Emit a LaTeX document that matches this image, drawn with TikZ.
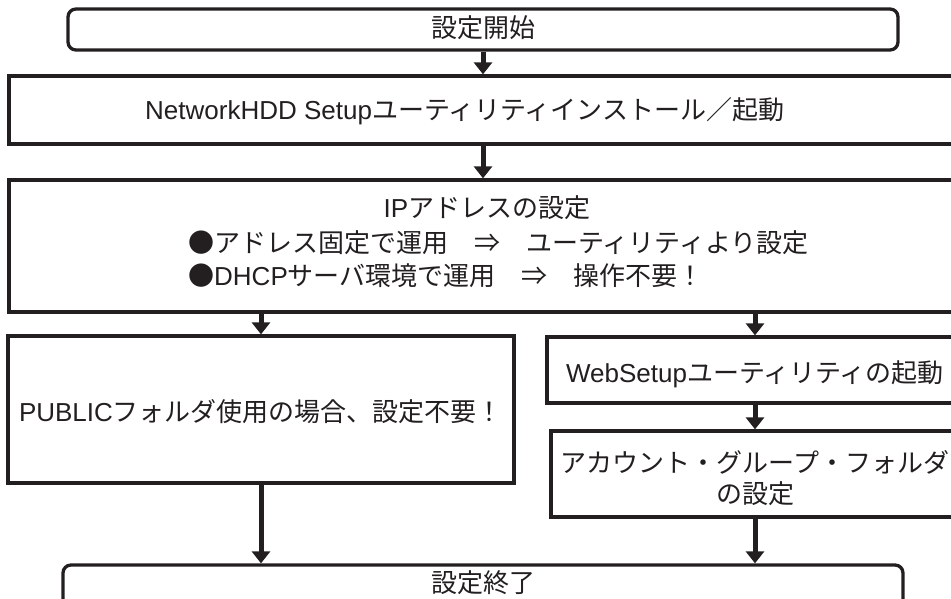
\documentclass[tikz,border=0pt]{standalone}
\usepackage{fontspec}
\setmainfont{Noto Sans CJK JP}
\newfontfamily\lat{Liberation Sans}
\usetikzlibrary{arrows.meta}
\definecolor{ink}{HTML}{231F20}
\begin{document}
\begin{tikzpicture}[x=1pt,y=-1pt,
  box/.style={draw=ink, line width=3.3pt, inner sep=0pt, fill=white},
  rbox/.style={box, rounded corners=8pt},
  txt/.style={font=\fontsize{26}{31}\selectfont, text=ink, inner sep=0pt},
  flow/.style={draw=ink, line width=5pt, -{Triangle[width=18pt,length=12pt]}}]
\useasboundingbox (0,0) rectangle (951,599);
\clip (0,0) rectangle (951,599);
\fill[white] (0,0) rectangle (951,599);
% boxes
\node[rbox, minimum width=830pt, minimum height=41pt] (start) at (483,29.5) {};
\node[box, minimum width=948pt, minimum height=68pt] (net) at (483,110) {};
\node[box, minimum width=948pt, minimum height=132pt] (ip) at (483,246) {};
\node[box, minimum width=506pt, minimum height=147pt] (pub) at (261,409.5) {};
\node[box, minimum width=416pt, minimum height=66pt] (web) at (755,370) {};
\node[box, minimum width=408pt, minimum height=86pt] (acc) at (755,474) {};
\node[rbox, minimum width=840pt, minimum height=80pt] (fin) at (483,605) {};
% texts
\node[txt, anchor=base] (tstart) at (483,38) {設定開始};
\node[txt, anchor=base west] (tnet) at (145,120) {{\lat NetworkHDD Setup}ユーティリティインストール／起動};
\node[txt, anchor=base] (tip1) at (487,218) {{\lat IP}アドレスの設定};
\node[txt, anchor=base west] (tip2) at (188,252) {●アドレス固定で運用　⇒　ユーティリティより設定};
\node[txt, anchor=base west] (tip3) at (188,285) {●{\lat DHCP}サーバ環境で運用　⇒　操作不要！};
\node[txt, anchor=base] (tpub) at (261,421) {{\lat PUBLIC}フォルダ使用の場合、設定不要！};
\node[txt, anchor=base] (tweb) at (755,382) {{\lat WebSetup}ユーティリティの起動};
\node[txt, anchor=base] (tacc1) at (755,472) {アカウント・グループ・フォルダ};
\node[txt, anchor=base] (tacc2) at (755,503) {の設定};
\node[txt, anchor=base] (tfin) at (483,592) {設定終了};
% connectors
\draw[flow] (start.south) -- (net.north);
\draw[flow] (net.south) -- (ip.north);
\draw[flow] (ip.south -| pub.north) -- (pub.north);
\draw[flow] (ip.south -| web.north) -- (web.north);
\draw[flow] (web.south) -- (acc.north);
\draw[flow] (pub.south) -- (pub.south |- fin.north);
\draw[flow] (acc.south) -- (acc.south |- fin.north);
\end{tikzpicture}
\end{document}
